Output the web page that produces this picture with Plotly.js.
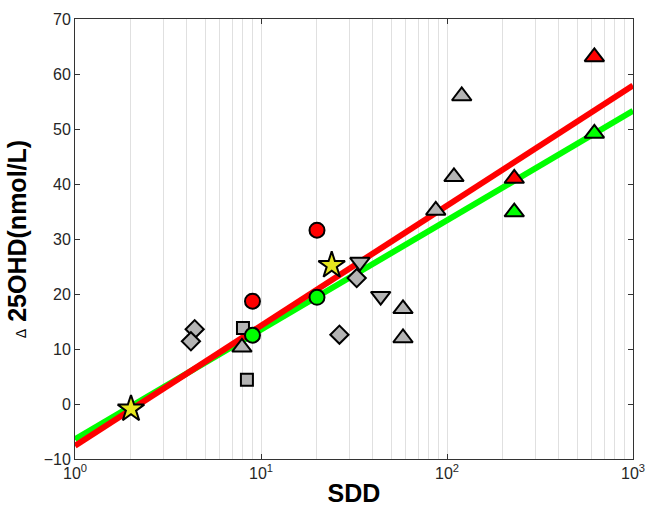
<!DOCTYPE html>
<html>
<head>
<meta charset="utf-8">
<script src="https://cdn.plot.ly/plotly-3.0.1.min.js"></script>
<style>html,body{margin:0;padding:0;background:#fff;}#chart{width:647px;height:510px;}</style>
</head>
<body>
<div id="chart"></div>
<script>
// Fit lines (data units)
const fitX = [1, 1000];
const redFitY = [-7.6, 57.9];
const greenFitY = [-6.4, 53.3];

// Gray markers
const grayTriUpX = [120, 109, 87, 58, 58, 7.9];
const grayTriUpY = [56, 41.3, 35.2, 17.3, 12.0, 10.3];
const grayTriDownX = [34, 44];
const grayTriDownY = [25.8, 19.6];
const grayDiamondX = [4.4, 4.2, 32.7, 26.4];
const grayDiamondY = [13.6, 11.4, 22.9, 12.6];
const graySquareX = [8.0, 8.4];
const graySquareY = [13.8, 4.4];

// Coloured markers
const redCircleX = [9, 20];
const redCircleY = [18.7, 31.6];
const greenCircleX = [9, 20];
const greenCircleY = [12.5, 19.4];
const redTriX = [230, 620];
const redTriY = [41.0, 63.1];
const greenTriX = [230, 620];
const greenTriY = [34.9, 49.2];
const starX = [2, 24];
const starY = [-0.9, 25.2];

// Axis ticks
const xMajor = [1, 10, 100, 1000];
const xMajorText = ['10<sup>0</sup>', '10<sup>1</sup>', '10<sup>2</sup>', '10<sup>3</sup>'];
const xMinor = [2,3,4,5,6,7,8,9,20,30,40,50,60,70,80,90,200,300,400,500,600,700,800,900];

const GRAY = '#b4b4b4', RED = '#ff0000', GREEN = '#00ff00', YELLOW = '#e6e61e';
function mk(x, y, sym, size, color) {
  return {x: x, y: y, type: 'scatter', mode: 'markers', showlegend: false, hoverinfo: 'skip',
    marker: {symbol: sym, size: size, color: color, line: {color: '#000', width: 2}}};
}

const traces = [
  {x: fitX, y: greenFitY, type: 'scatter', mode: 'lines', line: {color: GREEN, width: 6}, showlegend: false},
  {x: fitX, y: redFitY, type: 'scatter', mode: 'lines', line: {color: RED, width: 6}, showlegend: false},
  mk(grayTriUpX, grayTriUpY, 'triangle-up', 17, GRAY),
  mk(grayTriDownX, grayTriDownY, 'triangle-down', 17, GRAY),
  mk(grayDiamondX, grayDiamondY, 'diamond', 14, GRAY),
  mk(graySquareX, graySquareY, 'square', 12, GRAY),
  mk(redCircleX, redCircleY, 'circle', 15, RED),
  mk(greenCircleX, greenCircleY, 'circle', 15, GREEN),
  mk(redTriX, redTriY, 'triangle-up', 17, RED),
  mk(greenTriX, greenTriY, 'triangle-up', 17, GREEN),
  mk(starX, starY, 'star', 20, YELLOW)
];

const layout = {
  width: 647, height: 510,
  margin: {l: 75, r: 14, t: 19, b: 51},
  paper_bgcolor: '#fff', plot_bgcolor: '#fff',
  font: {family: 'Liberation Sans, Arial, sans-serif', size: 16, color: '#262626'},
  xaxis: {
    type: 'log', range: [0, 3], tickvals: xMajor, ticktext: xMajorText,
    ticks: 'inside', ticklen: 5, tickcolor: '#333', mirror: 'ticks',
    showline: true, linecolor: '#333', linewidth: 1,
    showgrid: true, gridcolor: '#e0e0e0', gridwidth: 1, zeroline: false,
    minor: {tickvals: xMinor, showgrid: true, gridcolor: '#e0e0e0', gridwidth: 1, ticks: ''},
    tickfont: {size: 16, color: '#262626'},
    title: {text: 'SDD', standoff: 3, font: {size: 25, weight: 'bold', color: '#000'}}
  },
  yaxis: {
    range: [-10, 70], dtick: 10, tick0: 0,
    ticks: 'inside', ticklen: 5, tickcolor: '#333', mirror: 'ticks',
    showline: true, linecolor: '#333', linewidth: 1,
    showgrid: false, zeroline: false,
    tickfont: {size: 16, color: '#262626'},
    title: {text: '<span style="font-size:14px;font-weight:normal">Δ</span> 25OHD(nmol/L)', standoff: 9,
      font: {size: 25, weight: 'bold', color: '#000'}}
  }
};

Plotly.newPlot('chart', traces, layout, {staticPlot: true, displayModeBar: false});
</script>
</body>
</html>
